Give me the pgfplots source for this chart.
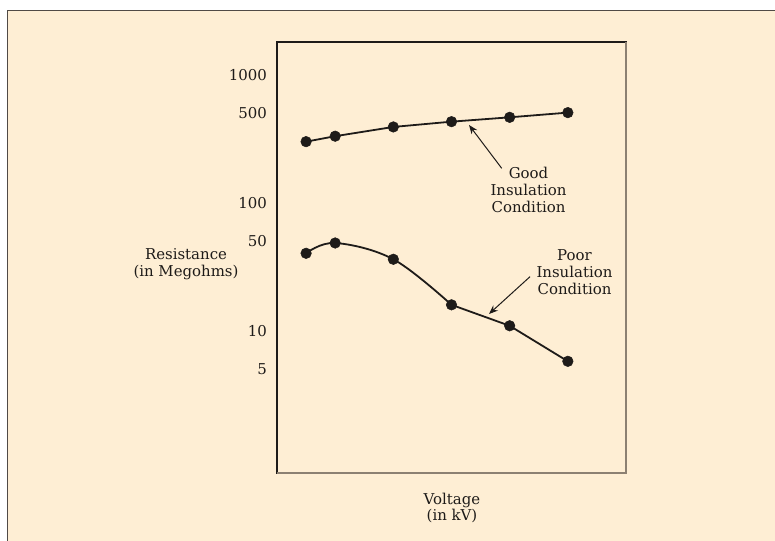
\documentclass[border=0pt]{standalone}
\usepackage{pgfplots}
\pgfplotsset{compat=1.18}
\usepackage{fontspec}
\setmainfont{DejaVu Serif}
\usetikzlibrary{arrows.meta}

\definecolor{peach}{RGB}{254,238,212}
\definecolor{ink}{RGB}{30,27,25}
\definecolor{framegray}{RGB}{80,74,70}
\definecolor{shadowgray}{RGB}{140,128,114}

\begin{document}
\begin{tikzpicture}[x=1bp,y=1bp,font=\fontsize{15}{17}\selectfont]
\useasboundingbox (0,0) rectangle (775,541);
\fill[white] (0,0) rectangle (775,541);
\fill[peach] (7.5,0) rectangle (775,530.5);
\draw[framegray, line width=1.4bp] (7.7,0) -- (7.7,530.3) -- (775,530.3);

\begin{axis}[
    at={(277bp,68bp)}, anchor=south west,
    scale only axis,
    width=349bp, height=431bp,
    xmin=0, xmax=12,
    ymode=log, ymin=0.770, ymax=1805,
    xtick=\empty,
    ytick={5,10,50,100,500,1000},
    yticklabels={\mbox{5},\mbox{10},\mbox{50},\mbox{100},\mbox{500},\mbox{1000}},
    yminorticks=false,
    major tick length=0pt,
    yticklabel style={anchor=east, inner sep=0pt, xshift=-10bp, text=ink},
    axis line style={draw=ink, line width=1.1bp},
    clip=false,
    every axis plot/.append style={mark=*, mark size=5.3bp,
        mark options={fill=ink, draw=ink, line width=0.5bp}},
]
\draw[shadowgray, line width=1.5bp] (rel axis cs:0,0) -- (rel axis cs:1,0) -- (rel axis cs:1,1);

% good insulation
\addplot[ink, line width=1.8bp] coordinates {
    (1,300) (2,331) (4,391) (6,430) (8,465) (10,506)
};
% poor insulation: curved part, then straight part
\addplot[ink, line width=1.8bp, smooth, tension=0.6, no marks] coordinates {
    (1,40.2) (2,48.4) (4,36.1) (6,15.9)
};
\addplot[ink, line width=1.8bp] coordinates {
    (6,15.9) (8,10.9) (10,5.75)
};
\addplot[only marks] coordinates {
    (1,40.2) (2,48.4) (4,36.1)
};
\end{axis}

\draw[ink, line width=1bp, -{Stealth[length=9bp,width=7bp]}] (501.7,372.7) -- (469,416);
\draw[ink, line width=1bp, -{Stealth[length=9bp,width=7bp]}] (530,264.3) -- (489,227);

\node[align=center, text=ink, inner sep=0pt] at (528.5,350.7) {Good\\Insulation\\Condition};
\node[align=center, text=ink, inner sep=0pt] at (574.5,268.5) {Poor\\Insulation\\Condition};
\node[align=center, text=ink, inner sep=0pt] at (186,276.5) {Resistance\\(in Megohms)};
\node[align=center, text=ink, inner sep=0pt] at (452,33) {Voltage\\(in kV)};
\end{tikzpicture}
\end{document}
